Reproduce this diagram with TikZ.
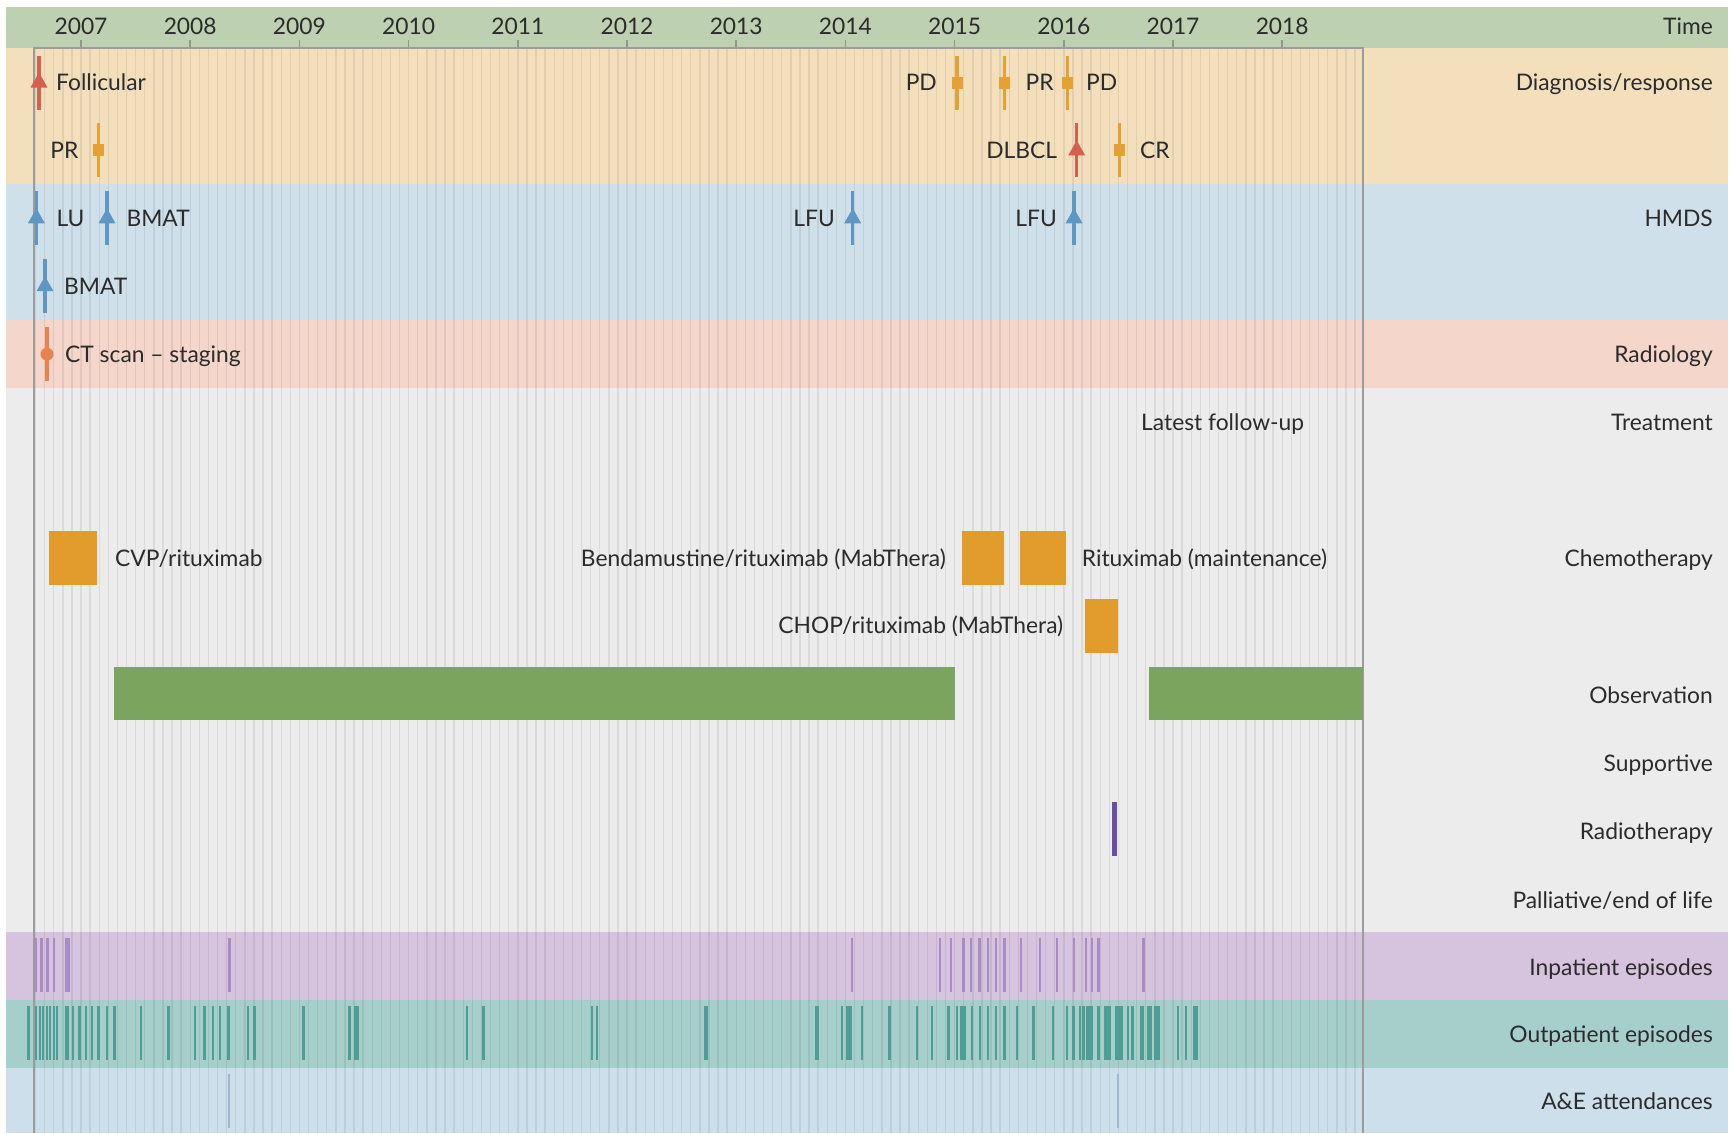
\documentclass[tikz,border=0pt]{standalone}
\usepackage{fontspec}
\setmainfont{Lato}
\definecolor{timebg}{HTML}{BDD0B2}
\definecolor{diagbg}{HTML}{F4DFBD}
\definecolor{hmdsbg}{HTML}{CFE0EA}
\definecolor{radbg}{HTML}{F4D6CB}
\definecolor{trtbg}{HTML}{ECECEC}
\definecolor{inpbg}{HTML}{D6C3DE}
\definecolor{outbg}{HTML}{A6CFCB}
\definecolor{aebg}{HTML}{CDDFEA}
\definecolor{txt}{HTML}{2B2B2B}
\definecolor{dxred}{HTML}{D5604F}
\definecolor{resp}{HTML}{E3A233}
\definecolor{hmdsblue}{HTML}{5F97C3}
\definecolor{ctorange}{HTML}{E88350}
\definecolor{chemo}{HTML}{E19C2B}
\definecolor{obsgreen}{HTML}{7BA55F}
\definecolor{rtpurple}{HTML}{6A4FA8}
\definecolor{inptick}{HTML}{A98BC6}
\definecolor{outtick}{HTML}{4E9E96}
\definecolor{aetick}{HTML}{9DB8D0}
\definecolor{framegrey}{HTML}{9C9C9C}
\definecolor{yeartick}{HTML}{8B9B86}

% event markers: colour, x, row centre
\newcommand\evArrow[3]{%
  \draw[#1, line width=3.2] (#2,#3-27) -- (#2,#3+27);
  \fill[#1] (#2,#3-10) -- (#2+8.5,#3+5) -- (#2-8.5,#3+5) -- cycle;}
\newcommand\evSquare[3]{%
  \draw[#1, line width=3.2] (#2,#3-27) -- (#2,#3+27);
  \fill[#1] (#2-5.5,#3-6) rectangle (#2+5.5,#3+6);}
\newcommand\evDot[3]{%
  \draw[#1, line width=3.2] (#2,#3-27) -- (#2,#3+27);
  \fill[#1] (#2,#3) circle (6.5);}

\begin{document}
\begin{tikzpicture}[x=1pt,y=-1pt,
  lbl/.style={font=\fontsize{22.8}{27}\selectfont, text=txt, inner sep=0pt},
  lw/.style={lbl, anchor=base west},
  le/.style={lbl, anchor=base east},
  tick/.style={line width=2.4}]
\useasboundingbox (0,0) rectangle (1735,1133);
\fill[white] (0,0) rectangle (1735,1133);

% row centres
\def\ra{82.5}  \def\rb{150.4} \def\rc{218.3} \def\rd{286.2}
\def\re{354.1} \def\rf{422}   \def\rg{489.9} \def\rh{557.8}
\def\ri{625.7} \def\rj{693.6} \def\rk{761.5} \def\rl{829.4}
\def\rm{897.3} \def\rn{965.2} \def\ro{1033.1} \def\rp{1101}
\def\bl{8.2}

% horizontal bands
\fill[timebg] (5.5,6.5) rectangle (1728,48);
\fill[diagbg] (5.5,48) rectangle (1728,184.4);
\fill[hmdsbg] (5.5,184.4) rectangle (1728,320.2);
\fill[radbg]  (5.5,320.2) rectangle (1728,388);
\fill[trtbg]  (5.5,388) rectangle (1728,932.2);
\fill[inpbg]  (5.5,932.2) rectangle (1728,1000);
\fill[outbg]  (5.5,1000) rectangle (1728,1067.9);
\fill[aebg]   (5.5,1067.9) rectangle (1728,1133);

% monthly grid lines
\foreach \k in {-5,...,140}
  \draw[black, opacity=0.07, line width=1.4] (81+9.1*\k,48) -- (81+9.1*\k,1133);

% time axis
\foreach \yr [count=\i from 0] in {2007,...,2018} {
  \draw[yeartick, line width=1.5] (81+109.2*\i,40) -- (81+109.2*\i,48);
  \node[lbl, anchor=base] (yr\yr) at (81+109.2*\i,34) {\yr};
}

% plot frame
\draw[framegrey, line width=1.5] (34,1133) -- (34,48) -- (1363,48) -- (1363,1133);

% row titles
\foreach \t/\y [count=\n] in {Time/25.8, Diagnosis\slash response/\ra, HMDS/\rc,
    Radiology/\re, Treatment/\rf, Chemotherapy/\rh, Observation/\rj+2,
    Supportive/\rk+2, Radiotherapy/\rl+2, Palliative\slash end of life/\rm+3,
    Inpatient episodes/\rn+2, Outpatient episodes/\ro+1, A\&E attendances/\rp}
  \node[le] (title\n) at (1713,\y+\bl) {\t};

% diagnosis / response
\evArrow{dxred}{39}{\ra}
\node[lw] (follicular) at (56,\ra+\bl) {Follicular};
\evSquare{resp}{957}{\ra}
\node[le] (pd1) at (937,\ra+\bl) {PD};
\evSquare{resp}{1004.3}{\ra}
\node[lw] (pr2) at (1025.5,\ra+\bl) {PR};
\evSquare{resp}{1067.3}{\ra}
\node[lw] (pd2) at (1086,\ra+\bl) {PD};
\evSquare{resp}{98.5}{\rb}
\node[le] (pr1) at (78.5,\rb+\bl) {PR};
\evArrow{dxred}{1076.7}{\rb}
\node[le] (dlbcl) at (1057.3,\rb+\bl) {DLBCL};
\evSquare{resp}{1119.3}{\rb}
\node[lw] (cr) at (1140,\rb+\bl) {CR};

% HMDS
\evArrow{hmdsblue}{36.4}{\rc}
\node[lw] (lu) at (56.3,\rc+\bl) {LU};
\evArrow{hmdsblue}{107}{\rc}
\node[lw] (bmat1) at (126.3,\rc+\bl) {BMAT};
\evArrow{hmdsblue}{852.7}{\rc}
\node[le] (lfu1) at (835,\rc+\bl) {LFU};
\evArrow{hmdsblue}{1074}{\rc}
\node[le] (lfu2) at (1057,\rc+\bl) {LFU};
\evArrow{hmdsblue}{45}{\rd}
\node[lw] (bmat2) at (64,\rd+\bl) {BMAT};

% radiology
\evDot{ctorange}{47}{\re}
\node[lw] (ct) at (65,\re+\bl) {CT scan – staging};

% treatment
\node[lw] (latest) at (1141,\rf+\bl) {Latest follow-up};

% chemotherapy
\fill[chemo] (48.7,\rh-27) rectangle (97.4,\rh+27);
\node[lw] (cvp) at (115,\rh+\bl) {CVP/rituximab};
\fill[chemo] (961.5,\rh-27) rectangle (1003.6,\rh+27);
\node[le] (benda) at (946,\rh+\bl) {Bendamustine/rituximab (MabThera)};
\fill[chemo] (1020,\rh-27) rectangle (1065.7,\rh+27);
\node[lw] (ritux) at (1081.7,\rh+\bl) {Rituximab (maintenance)};
\fill[chemo] (1085,\ri-27) rectangle (1117.7,\ri+27);
\node[le] (chop) at (1063.4,\ri+\bl) {CHOP/rituximab (MabThera)};

% observation
\fill[obsgreen] (114,\rj-26.5) rectangle (955,\rj+26.5);
\fill[obsgreen] (1149,\rj-26.5) rectangle (1363,\rj+26.5);

% radiotherapy
\fill[rtpurple] (1111.7,\rl-27) rectangle (1117.3,\rl+27);

% inpatient episodes
\foreach \x in {36,41.5,47.5,54,229.3,851.7,940,951,963.3,971,979.3,987.7,996,
    1004.5,1021,1040,1056.7,1074,1086,1091.7,1098.3,1143.3}
  \draw[inptick, tick] (\x,\rn-27) -- (\x,\rn+27);
\fill[inptick] (65,\rn-27) rectangle (70,\rn+27);

% outpatient episodes
\foreach \x in {36,39.5,43,46.5,50,53.5,57}
  \draw[outtick, line width=2] (\x,\ro-27) -- (\x,\ro+27);
\foreach \x in {28.3,72.7,79.3,85.7,91.7,98.3,
    106.7,114.3,141,168.3,195,204.3,212.7,220,228.3,247.7,254.3,303.3,349.3,
    466.7,483.3,591.7,596.7,841.7,861.7,889.3,916.7,931.7,948.3,956.7,971.7,
    980,987.7,996,1004.3,1016.7,1033.3,1052.7,1066.7,1073.3,1080,1083.3,
    1098.3,1127.7,1132.3,1177.7,1186}
  \draw[outtick, tick] (\x,\ro-27) -- (\x,\ro+27);
\foreach \a/\b in {65/68.5,354/358.5,704/708,815.3/819.3,846/852,960/966,
    1086/1093,1104/1111,1115/1123,1140/1144,1147/1152,1154/1159.5,1192.5/1197.5}
  \fill[outtick] (\a,\ro-27) rectangle (\b,\ro+27);

% A&E attendances
\foreach \x in {229.3,1117.7}
  \draw[aetick, line width=2] (\x,\rp-27) -- (\x,\rp+27);
\end{tikzpicture}
\end{document}
